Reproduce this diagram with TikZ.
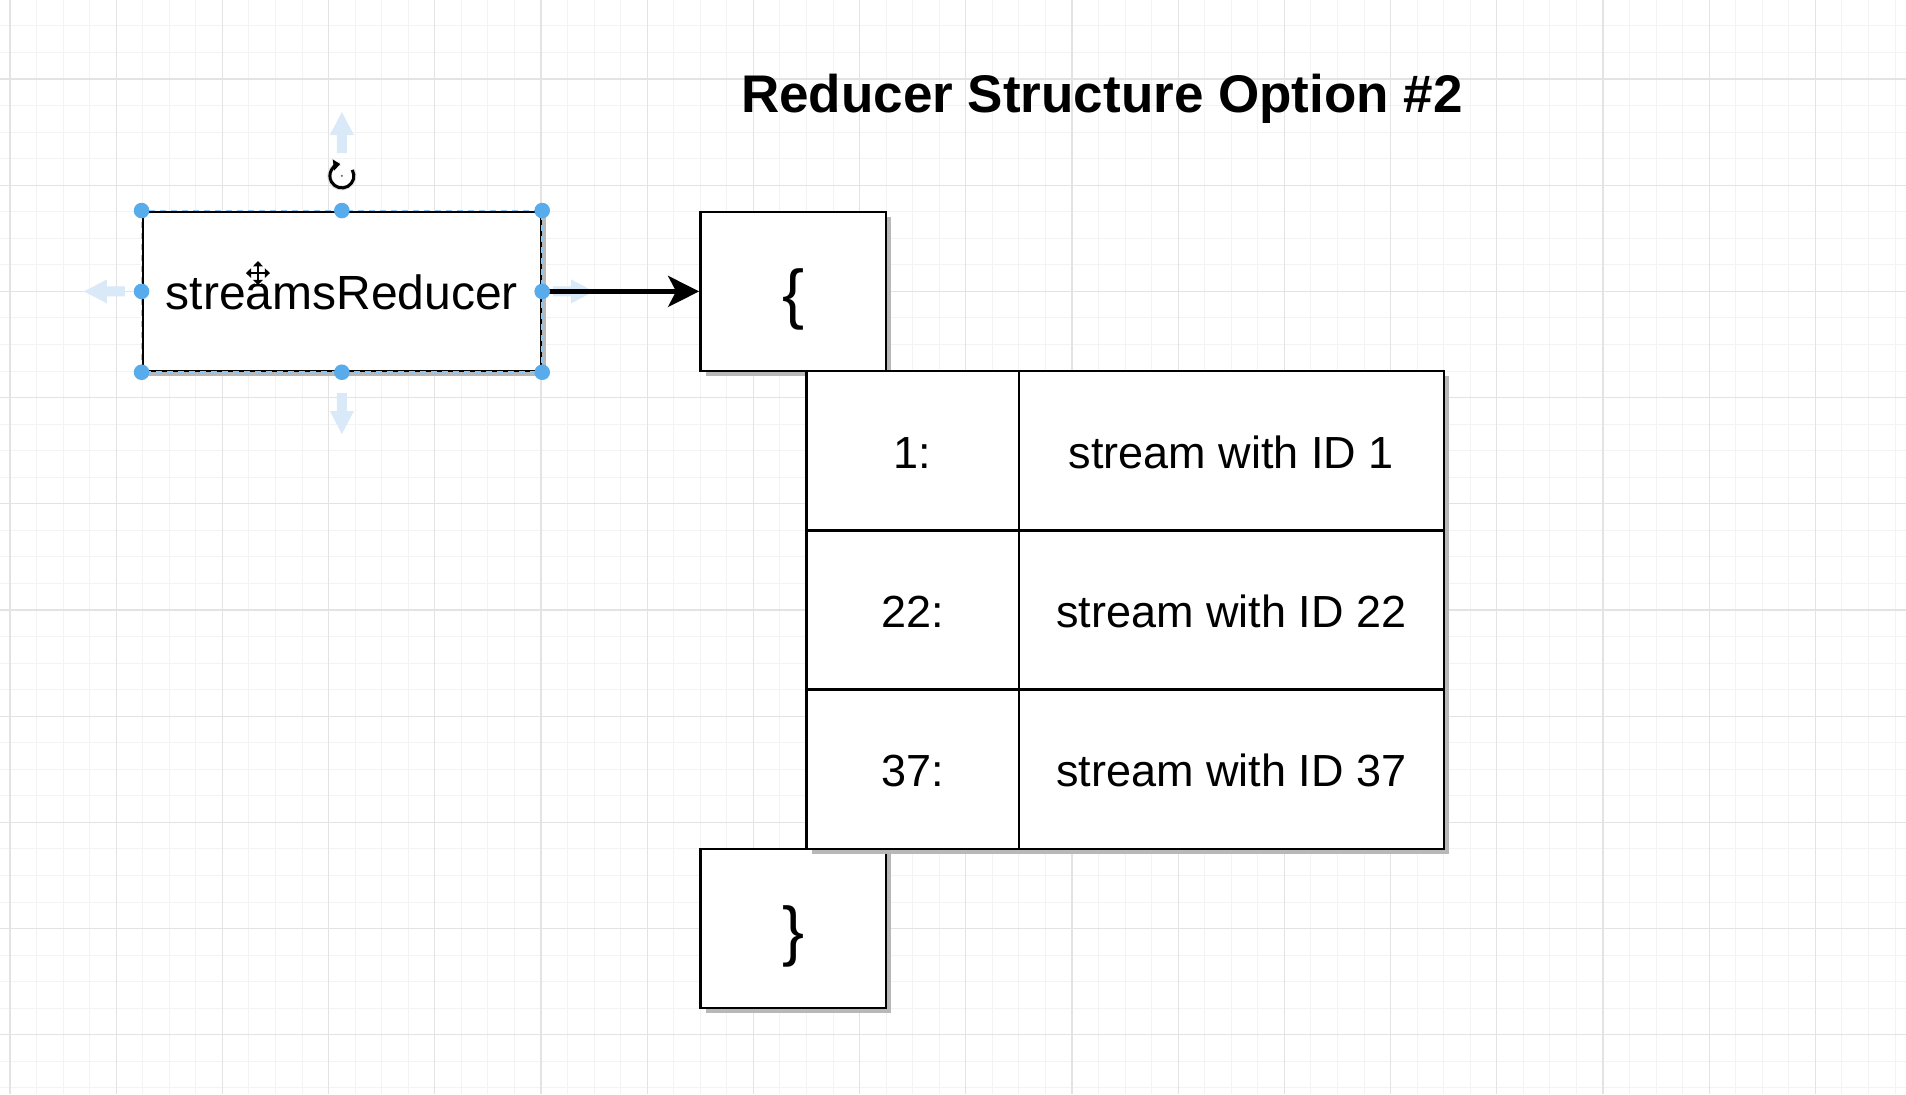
\documentclass[tikz,border=0pt]{standalone}
\usepackage{fontspec}
\setmainfont{Liberation Sans}
\usetikzlibrary{arrows.meta,shadows}
\definecolor{gridminor}{HTML}{F3F3F3}
\definecolor{gridmajor}{HTML}{E3E3E3}
\definecolor{handleblue}{HTML}{58ACEC}
\definecolor{selblue}{HTML}{8EC6F2}
\definecolor{faintblue}{HTML}{D9E9F8}
\definecolor{shadowgray}{HTML}{B8B8B8}
\begin{document}
\begin{tikzpicture}[x=13.275pt, y=-13.275pt,
  box/.style={draw=black, line width=1.2pt, fill=white, inner sep=0pt,
    drop shadow={shadow xshift=2.6pt, shadow yshift=-2.6pt, fill=shadowgray, opacity=1}},
  cell/.style={draw=black, line width=1.2pt, inner sep=0pt, minimum height=79.65pt,
    text height=17.3pt, text depth=0pt, font=\fontsize{22.5}{26}\selectfont},
  conn/.style={line width=2.3pt, -{Stealth[length=15.5pt, width=15.5pt, inset=4pt]}},
  handle/.style={fill=handleblue},
  fainta/.pic={\fill[faintblue] (0pt,-2.5pt) -- (9pt,-2.5pt) -- (9pt,-6pt) -- (20.5pt,0pt)
     -- (9pt,6pt) -- (9pt,2.5pt) -- (0pt,2.5pt) -- cycle;}
]
% background and grid
\fill[white] (-0.37665,-2.97552) rectangle (71.4124,38.2298);
\useasboundingbox (-0.37665,-2.97552) rectangle (71.4124,38.2298);
\foreach \i in {0,...,71} \draw[gridminor, line width=0.5pt] (\i,-2.97552) -- (\i,38.2298);
\foreach \j in {-2,...,38} \draw[gridminor, line width=0.5pt] (-0.37665,\j) -- (71.4124,\j);
\foreach \i in {0,4,...,68} \draw[gridmajor, line width=0.6pt] (\i,-2.97552) -- (\i,38.2298);
\foreach \j in {0,4,...,36} \draw[gridmajor, line width=0.6pt] (-0.37665,\j) -- (71.4124,\j);

% title
\node[font=\bfseries\fontsize{26.5}{30}\selectfont, anchor=base, inner sep=0pt] (title) at (41.13,1.243) {Reducer Structure Option \#2};

% boxes
\node[box, minimum width=199.125pt, minimum height=79.65pt, text height=18.5pt, text depth=0pt,
  font=\fontsize{24}{28}\selectfont] (sr) at (12.5,8) {streamsReducer};
\node[box, minimum width=92.925pt, minimum height=79.65pt, text height=24.6pt, text depth=0pt,
  font=\fontsize{33}{36}\selectfont] (lb) at (29.5,8) {\{};
\node[box, minimum width=92.925pt, minimum height=79.65pt, text height=24.6pt, text depth=0pt,
  font=\fontsize{33}{36}\selectfont] (rb) at (29.5,32) {\}};

% table
\node[box, minimum width=318.6pt, minimum height=238.95pt] (tbl) at (42,20) {};
\node[cell, minimum width=106.2pt] (k1) at (34,14) {1:};
\node[cell, minimum width=212.4pt] (v1) at (46,14) {stream with ID 1};
\node[cell, minimum width=106.2pt] (k2) at (34,20) {22:};
\node[cell, minimum width=212.4pt] (v2) at (46,20) {stream with ID 22};
\node[cell, minimum width=106.2pt] (k3) at (34,26) {37:};
\node[cell, minimum width=212.4pt] (v3) at (46,26) {stream with ID 37};

% faint direction arrows of the selection
\pic[rotate=90] at (12.5,2.788) {fainta};
\pic[rotate=-90] at (12.5,11.83) {fainta};
\pic[rotate=180] at (4.33,8) {fainta};
\pic at (20.45,8) {fainta};

% connector
\draw[conn] (sr.east) -- (lb.west);

% selection outline and handles
\draw[selblue, line width=0.8pt, dash pattern=on 3pt off 2.5pt] (sr.north west) rectangle (sr.south east);
\foreach \a in {north west,north,north east,west,east,south west,south,south east}
  \fill[handle] (sr.\a) circle[radius=3.9pt];

% rotation icon
\coordinate (rot) at (12.5,3.65);
\draw[black!12, line width=2.2pt] (rot) ++(30:6.2pt) arc[start angle=30, end angle=-262, radius=6.2pt];
\draw[line width=1.5pt, -{Triangle[length=3.4pt,width=5.4pt]}] (rot) ++(30:6pt) arc[start angle=30, end angle=-262, radius=6pt];
\fill[black!60] (rot) circle[radius=0.6pt];

% move cursor
\begin{scope}[shift={(9.34,7.31)}]
\draw[white, line width=2.8pt] (-5.5pt,0pt) -- (5.5pt,0pt) (0pt,-5.5pt) -- (0pt,5.5pt);
\draw[black, line width=1.1pt, {Triangle[length=2.6pt,width=4.8pt]}-{Triangle[length=2.6pt,width=4.8pt]}] (-6pt,0pt) -- (6pt,0pt);
\draw[black, line width=1.1pt, {Triangle[length=2.6pt,width=4.8pt]}-{Triangle[length=2.6pt,width=4.8pt]}] (0pt,-6pt) -- (0pt,6pt);
\end{scope}
\end{tikzpicture}
\end{document}
